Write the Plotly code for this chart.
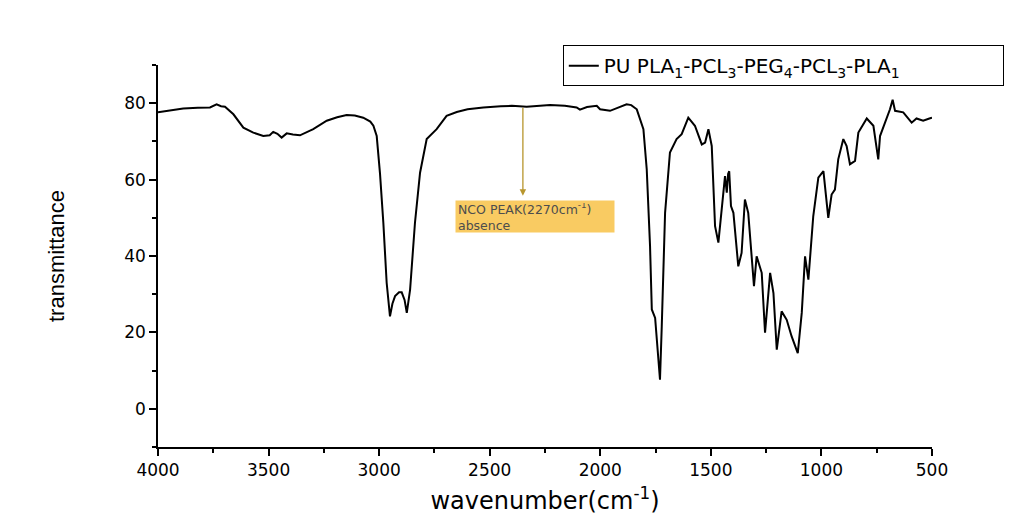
import plotly.graph_objects as go

wavenumber = [4000, 3950, 3886, 3820, 3765, 3735, 3715, 3697, 3659, 3614, 3569, 3524, 3495, 3479, 3460,
              3441, 3418, 3390, 3358, 3298, 3237, 3190, 3147, 3110, 3072, 3040, 3026, 3011, 2996, 2981,
              2966, 2951, 2940, 2928, 2910, 2898, 2885, 2875, 2860, 2838, 2815, 2785, 2740, 2695, 2649,
              2600, 2529, 2450, 2400, 2333, 2280, 2227, 2160, 2107, 2092, 2060, 2016, 2001, 1956, 1920,
              1881, 1860, 1835, 1805, 1790, 1775, 1767, 1752, 1737, 1730, 1722, 1707, 1685, 1655, 1632,
              1602, 1572, 1541, 1526, 1511, 1496, 1481, 1466, 1451, 1436, 1428, 1422, 1417, 1409, 1398,
              1376, 1361, 1346, 1331, 1315, 1305, 1293, 1270, 1255, 1247, 1232, 1217, 1202, 1180, 1157,
              1135, 1107, 1089, 1074, 1059, 1037, 1014, 991, 969, 954, 939, 924, 901, 886, 871,
              848, 833, 795, 765, 743, 735, 713, 690, 678, 667, 630, 592, 570, 540, 512, 500]

transmittance = [77.6, 78.1, 78.6, 78.8, 78.9, 79.7, 79.2, 79.1, 77.1, 73.6, 72.3, 71.4, 71.6, 72.5, 72.0,
                 71.0, 72.1, 71.8, 71.6, 73.2, 75.4, 76.3, 76.9, 76.8, 76.2, 75.2, 74.1, 71.4, 61.5, 48.7,
                 33.0, 24.2, 27.5, 29.5, 30.5, 30.5, 28.5, 25.1, 31.2, 48.7, 61.8, 70.6, 73.2, 76.7, 77.7,
                 78.4, 78.9, 79.2, 79.3, 79.1, 79.3, 79.5, 79.3, 78.9, 78.3, 79.0, 79.3, 78.4, 78.0, 78.8,
                 79.7, 79.5, 78.4, 73.2, 62.7, 42.6, 26.0, 23.8, 12.0, 7.6, 21.6, 51.3, 67.1, 70.6, 71.9,
                 76.2, 74.1, 69.2, 69.7, 73.2, 68.8, 47.8, 43.5, 51.3, 60.9, 56.6, 61.5, 62.2, 53.1, 51.3,
                 37.3, 40.8, 54.8, 51.3, 39.1, 32.1, 39.9, 35.6, 19.9, 25.1, 35.6, 30.3, 15.5, 25.5, 23.3,
                 19.0, 14.6, 25.1, 39.9, 33.8, 50.4, 60.5, 62.2, 50.0, 56.1, 57.4, 65.3, 70.6, 68.8, 64.0,
                 64.9, 72.3, 76.0, 74.1, 65.3, 71.4, 74.9, 78.4, 80.9, 78.0, 77.6, 74.9, 76.0, 75.4, 76.0, 76.2]

series_name = "PU PLA<sub>1</sub>-PCL<sub>3</sub>-PEG<sub>4</sub>-PCL<sub>3</sub>-PLA<sub>1</sub>"
x_ticks = [4000, 3500, 3000, 2500, 2000, 1500, 1000, 500]
y_ticks = [0, 20, 40, 60, 80]
note_text = "NCO PEAK(2270cm<sup>-1</sup>)<br>absence"

FONT = "DejaVu Sans"

fig = go.Figure()
fig.add_trace(go.Scatter(x=wavenumber, y=transmittance, mode="lines", name=series_name,
                         line=dict(color="black", width=2)))

fig.add_annotation(x=2350, y=55.8, ax=2350, ay=79.2, axref="x", ayref="y", text="",
                   showarrow=True, arrowhead=2, arrowsize=1, arrowwidth=1.3, arrowcolor="#B8962E")
fig.add_annotation(x=2657, y=54.6, xanchor="left", yanchor="top", showarrow=False,
                   text=note_text, align="left", valign="middle", bgcolor="#F9CB62",
                   width=154, height=27, borderpad=2,
                   font=dict(family=FONT, size=12.5, color="#4d4d4d"))

fig.update_layout(
    width=1021, height=525,
    margin=dict(l=158, r=89, t=65, b=78, autoexpand=False),
    plot_bgcolor="white", paper_bgcolor="white",
    showlegend=True,
    legend=dict(x=0.523, y=1.052, xanchor="left", yanchor="top", orientation="h",
                bordercolor="black", borderwidth=1, bgcolor="white",
                entrywidth=394, entrywidthmode="pixels",
                font=dict(family=FONT, size=20, color="black")),
    xaxis=dict(range=[4000, 500], tickvals=x_ticks, ticks="outside", ticklen=7, tickwidth=1.5,
               tickcolor="black", showline=True, linecolor="black", linewidth=1.5,
               showgrid=False, zeroline=False,
               minor=dict(dtick=250, ticks="outside", ticklen=4, tickwidth=1.5, tickcolor="black", showgrid=False),
               tickfont=dict(family=FONT, size=17, color="black"),
               title=dict(text="wavenumber(cm<sup>-1</sup>)", standoff=13,
                          font=dict(family=FONT, size=24, color="black"))),
    yaxis=dict(range=[-10, 90], tickvals=y_ticks, ticks="outside", ticklen=7, tickwidth=1.5,
               tickcolor="black", showline=True, linecolor="black", linewidth=1.5,
               showgrid=False, zeroline=False,
               minor=dict(dtick=10, ticks="outside", ticklen=4, tickwidth=1.5, tickcolor="black", showgrid=False),
               tickfont=dict(family=FONT, size=17, color="black"),
               title=dict(text="transmittance", standoff=54,
                          font=dict(family="Liberation Sans", size=22, color="black"))),
)

fig.write_html("out.html")
